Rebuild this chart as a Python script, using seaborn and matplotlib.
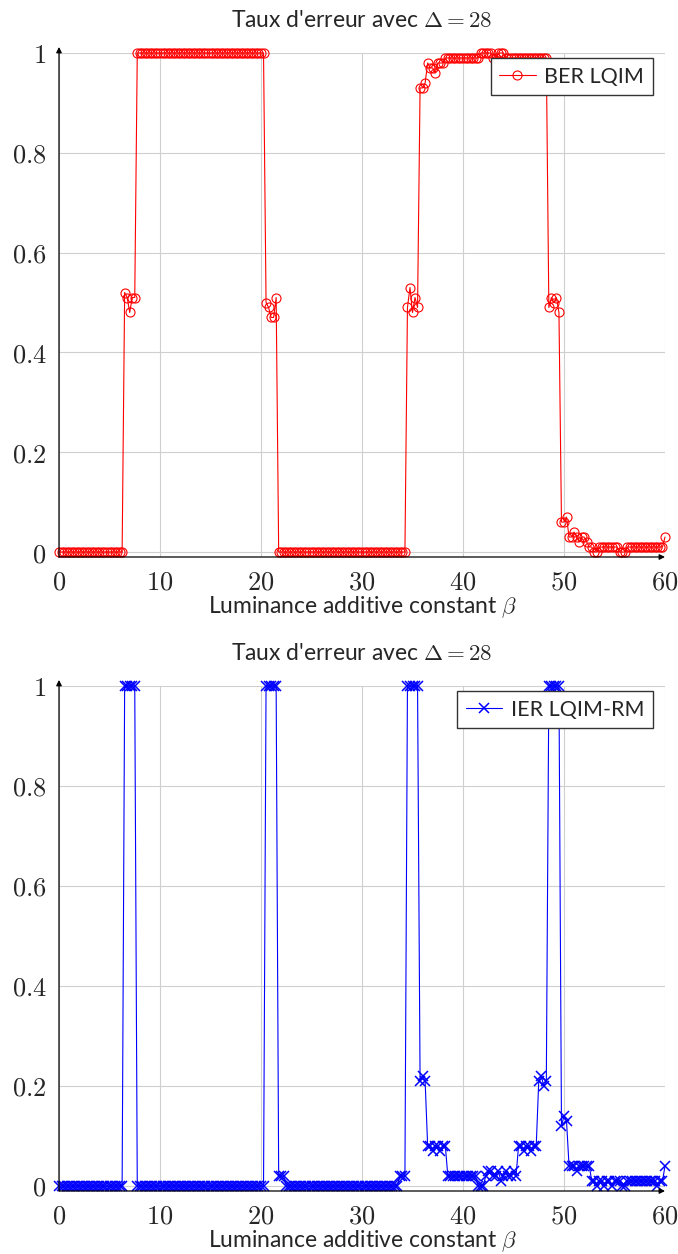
import numpy as np
import pandas as pd
import matplotlib
matplotlib.use("Agg")
import matplotlib.pyplot as plt
import seaborn as sns

# Luminance shift beta, swept from 0 to 60 in steps of 0.25
beta = np.arange(0, 60.25, 0.25)

# Bit error rate of LQIM
ber_lqim = [
    0, 0, 0, 0, 0, 0, 0, 0, 0, 0,
    0, 0, 0, 0, 0, 0, 0, 0, 0, 0,
    0, 0, 0, 0, 0, 0,
    0.52, 0.51, 0.48, 0.51, 0.51,
    1, 1, 1, 1, 1, 1, 1, 1, 1, 1,
    1, 1, 1, 1, 1, 1, 1, 1, 1, 1,
    1, 1, 1, 1, 1, 1, 1, 1, 1, 1,
    1, 1, 1, 1, 1, 1, 1, 1, 1, 1,
    1, 1, 1, 1, 1, 1, 1, 1, 1, 1,
    1,
    0.50, 0.49, 0.47, 0.47, 0.51,
    0, 0, 0, 0, 0, 0, 0, 0, 0, 0,
    0, 0, 0, 0, 0, 0, 0, 0, 0, 0,
    0, 0, 0, 0, 0, 0, 0, 0, 0, 0,
    0, 0, 0, 0, 0, 0, 0, 0, 0, 0,
    0, 0, 0, 0, 0, 0, 0, 0, 0, 0,
    0,
    0.49, 0.53, 0.48, 0.51, 0.49,
    0.93, 0.93, 0.94, 0.98, 0.97, 0.97, 0.96, 0.98, 0.98, 0.98,
    0.99, 0.99, 0.99, 0.99, 0.99, 0.99, 0.99, 0.99, 0.99, 0.99,
    0.99, 0.99, 0.99, 0.99,
    1, 1, 1, 1, 1,
    0.99, 0.99,
    1, 1, 1,
    0.99, 0.99, 0.99, 0.99, 0.99, 0.99, 0.99, 0.99, 0.99, 0.99,
    0.99, 0.99, 0.99, 0.99, 0.99, 0.99, 0.99,
    0.49, 0.51, 0.50, 0.51, 0.48,
    0.06, 0.06, 0.07, 0.03, 0.03, 0.04, 0.03, 0.02, 0.03, 0.03,
    0.02, 0.01, 0.01, 0, 0,
    0.01, 0.01, 0.01, 0.01, 0.01, 0.01, 0.01, 0.01,
    0, 0, 0,
    0.01, 0.01, 0.01, 0.01, 0.01, 0.01, 0.01, 0.01, 0.01, 0.01,
    0.01, 0.01, 0.01, 0.01, 0.01,
    0.03,
]

# Image error rate of LQIM-RM
ier_lqim_rm = [
    0, 0, 0, 0, 0, 0, 0, 0, 0, 0,
    0, 0, 0, 0, 0, 0, 0, 0, 0, 0,
    0, 0, 0, 0, 0, 0,
    1, 1, 1, 1, 1,
    0, 0, 0, 0, 0, 0, 0, 0, 0, 0,
    0, 0, 0, 0, 0, 0, 0, 0, 0, 0,
    0, 0, 0, 0, 0, 0, 0, 0, 0, 0,
    0, 0, 0, 0, 0, 0, 0, 0, 0, 0,
    0, 0, 0, 0, 0, 0, 0, 0, 0, 0,
    0,
    1, 1, 1, 1, 1,
    0.02, 0.02, 0.02,
    0, 0, 0, 0, 0, 0, 0, 0, 0, 0,
    0, 0, 0, 0, 0, 0, 0, 0, 0, 0,
    0, 0, 0, 0, 0, 0, 0, 0, 0, 0,
    0, 0, 0, 0, 0, 0, 0, 0, 0, 0,
    0, 0, 0, 0, 0,
    0.02, 0.02, 0.02,
    1, 1, 1, 1, 1,
    0.21, 0.22, 0.21,
    0.08, 0.08, 0.07, 0.08, 0.08, 0.07, 0.08, 0.08,
    0.02, 0.02, 0.02, 0.02, 0.02, 0.02, 0.02, 0.02, 0.02, 0.02,
    0.02, 0.02,
    0, 0, 0,
    0.02, 0.03, 0.03, 0.02, 0.02, 0.03, 0.01, 0.02, 0.03, 0.02,
    0.02, 0.03, 0.02,
    0.08, 0.08, 0.07, 0.08, 0.08, 0.07, 0.08, 0.08,
    0.21, 0.22, 0.20, 0.21,
    1, 1, 1, 1, 1,
    0.12, 0.14, 0.13,
    0.04, 0.04, 0.04, 0.03, 0.04, 0.04, 0.04, 0.04, 0.04,
    0.01, 0.01, 0, 0.01, 0.01, 0, 0.01, 0.01, 0, 0.01,
    0.01, 0.01,
    0, 0,
    0.01, 0.01, 0.01, 0.01, 0.01, 0.01, 0.01, 0.01, 0.01, 0.01,
    0.01, 0.01, 0, 0.01, 0.01,
    0.04,
]

x_ticks = [0, 10, 20, 30, 40, 50, 60]
x_tick_labels = ["$0$", "$10$", "$20$", "$30$", "$40$", "$50$", "$60$"]
y_ticks = [0, 0.2, 0.4, 0.6, 0.8, 1]
y_tick_labels = ["$0$", "$0.2$", "$0.4$", "$0.6$", "$0.8$", "$1$"]

title_text = "Taux d'erreur avec $\\Delta = 28$"
xlabel_text = "Luminance additive constant $\\beta$"

sns.set_style("white")
plt.rcParams["font.family"] = ["Lato", "DejaVu Sans"]
plt.rcParams["mathtext.fontset"] = "cm"

W, H = 678, 1254
fig = plt.figure(figsize=(W / 100, H / 100), dpi=100)
ax_top = fig.add_axes([59 / W, 1 - 557 / H, 606 / W, 504 / H])
ax_bot = fig.add_axes([59 / W, 1 - 1191 / H, 606 / W, 505 / H])

df_ber = pd.DataFrame({"beta": beta, "taux": ber_lqim})
df_ier = pd.DataFrame({"beta": beta, "taux": ier_lqim_rm})

sns.lineplot(data=df_ber, x="beta", y="taux", ax=ax_top, estimator=None,
             color="#ff0000", lw=0.8, marker="o", markersize=6.5,
             markerfacecolor="none", markeredgecolor="#ff0000",
             markeredgewidth=0.8, label="BER LQIM", clip_on=False)
sns.lineplot(data=df_ier, x="beta", y="taux", ax=ax_bot, estimator=None,
             color="#0000ff", lw=0.8, marker="x", markersize=6.5,
             markeredgecolor="#0000ff", markeredgewidth=1.1,
             label="IER LQIM-RM", clip_on=False)

for ax in (ax_top, ax_bot):
    ax.set_xlim(0, 60)
    ax.set_ylim(-0.01, 1.0)
    ax.set_xticks(x_ticks)
    ax.set_xticklabels(x_tick_labels, fontsize=19)
    ax.set_yticks(y_ticks)
    ax.set_yticklabels(y_tick_labels, fontsize=19)
    ax.grid(True, color="#cfcfcf", lw=0.8)
    ax.set_axisbelow(True)
    for side in ("top", "right", "left", "bottom"):
        ax.spines[side].set_visible(False)
    ax.tick_params(axis="both", direction="inout", length=6, width=0.7,
                   color="black", pad=6)
    ax.tick_params(axis="x", pad=6)
    # axis lines with arrow heads
    ax.annotate("", xy=(1.0, 0), xytext=(0, 0), xycoords="axes fraction",
                arrowprops=dict(arrowstyle="-|>", lw=0.9, color="black",
                                mutation_scale=8, shrinkA=0, shrinkB=0))
    ax.annotate("", xy=(0, 1.012), xytext=(0, 0), xycoords="axes fraction",
                arrowprops=dict(arrowstyle="-|>", lw=0.9, color="black",
                                mutation_scale=8, shrinkA=0, shrinkB=0))
    ax.set_title(title_text, fontsize=16.5, pad=19)
    ax.set_xlabel(xlabel_text, fontsize=16.5, labelpad=0)
    ax.set_ylabel("")
    leg = ax.legend(loc="upper right", bbox_to_anchor=(0.98, 0.99),
                    fontsize=15.5, frameon=True, fancybox=False,
                    edgecolor="#333333", framealpha=1, borderpad=0.4,
                    handlelength=1.7, handletextpad=0.4, numpoints=1,
                    borderaxespad=0)
    leg.get_frame().set_linewidth(1.0)

fig.savefig("out.png", dpi=100)
